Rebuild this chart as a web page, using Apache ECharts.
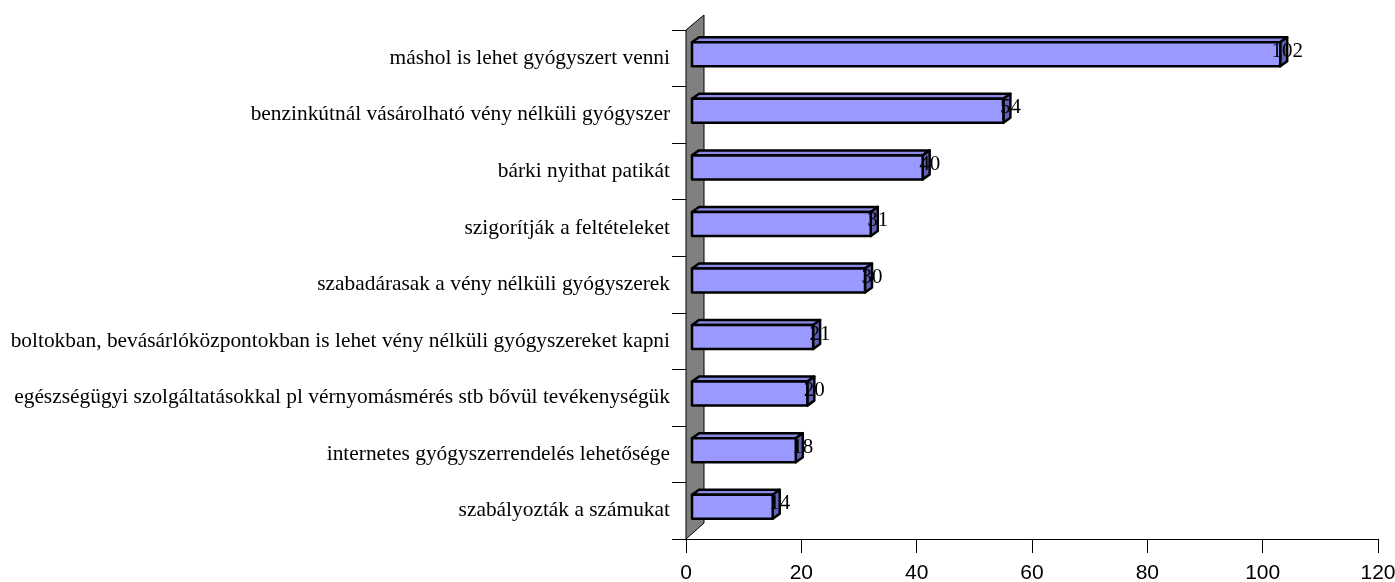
<!DOCTYPE html>
<html>
<head>
<meta charset="utf-8">
<script src="https://cdn.jsdelivr.net/npm/echarts@6/dist/echarts.min.js"></script>
<style>
  html, body { margin: 0; padding: 0; background: #fff; }
  #chart { width: 1395px; height: 582px; }
</style>
</head>
<body>
<div id="chart"></div>
<script>
// kategóriák fentről lefelé
const categories = [
  'máshol is lehet gyógyszert venni',
  'benzinkútnál vásárolható vény nélküli gyógyszer',
  'bárki nyithat patikát',
  'szigorítják a feltételeket',
  'szabadárasak a vény nélküli gyógyszerek',
  'boltokban, bevásárlóközpontokban is lehet vény nélküli gyógyszereket kapni',
  'egészségügyi szolgáltatásokkal pl vérnyomásmérés stb bővül tevékenységük',
  'internetes gyógyszerrendelés lehetősége',
  'szabályozták a számukat'
]
const values = [102, 54, 40, 31, 30, 21, 20, 18, 14]
const xTicks = [0, 20, 40, 60, 80, 100, 120]

const chart = echarts.init(document.getElementById('chart'))

// 3D hatás eltolásai (px)
const FRONT_DX = 6
const FRONT_DY = -4
const DEPTH_X = 7
const DEPTH_Y = -5
const BAR_H = 24

function renderBar(params, api) {
  const v = api.value(0)
  const i = api.value(1)
  const p0 = api.coord([0, i])
  const p1 = api.coord([v, i])
  const x0 = p0[0] + FRONT_DX
  const x1 = p1[0] + FRONT_DX
  const yc = p0[1] + FRONT_DY
  const y0 = yc - BAR_H / 2
  const y1 = yc + BAR_H / 2
  const line = { stroke: '#000', lineWidth: 2.5, lineJoin: 'round' }
  return {
    type: 'group',
    children: [
      {
        type: 'polygon',
        shape: { points: [[x0, y0], [x0 + DEPTH_X, y0 + DEPTH_Y], [x1 + DEPTH_X, y0 + DEPTH_Y], [x1, y0]] },
        style: Object.assign({ fill: '#8a8ae6' }, line)
      },
      {
        type: 'polygon',
        shape: { points: [[x1, y0], [x1 + DEPTH_X, y0 + DEPTH_Y], [x1 + DEPTH_X, y1 + DEPTH_Y], [x1, y1]] },
        style: Object.assign({ fill: '#6262b8' }, line)
      },
      {
        type: 'rect',
        shape: { x: x0, y: y0, width: x1 - x0, height: BAR_H },
        style: Object.assign({ fill: '#9999ff' }, line)
      },
      {
        type: 'text',
        x: x1 + DEPTH_X,
        y: yc - 3,
        style: {
          text: String(v),
          fill: '#000',
          font: '21px "Liberation Serif"',
          align: 'center',
          verticalAlign: 'middle'
        }
      }
    ]
  }
}

function renderWall(params, api) {
  const cs = params.coordSys
  const x = cs.x, top = cs.y, bottom = cs.y + cs.height
  return {
    type: 'polygon',
    shape: { points: [[x, top], [x + 18, top - 15], [x + 18, bottom - 16], [x, bottom]] },
    style: { fill: '#808080', stroke: '#000', lineWidth: 1 }
  }
}

chart.setOption({
  animation: false,
  grid: { left: 686, right: 17, top: 30, bottom: 43, outerBoundsMode: 'none', containLabel: false },
  xAxis: {
    type: 'value',
    min: 0,
    max: 120,
    interval: 20,
    splitLine: { show: false },
    axisLine: { show: true, lineStyle: { color: '#000', width: 1 } },
    axisTick: { show: true, length: 14, lineStyle: { color: '#000' } },
    axisLabel: {
      color: '#000',
      fontFamily: 'Liberation Sans',
      fontSize: 21,
      margin: 24,
      formatter: v => (xTicks.includes(v) ? String(v) : '')
    }
  },
  yAxis: {
    type: 'category',
    inverse: true,
    data: categories,
    axisLine: { show: true, lineStyle: { color: '#000' } },
    axisTick: { show: true, length: 14, interval: 0, lineStyle: { color: '#000' } },
    axisLabel: {
      interval: 0,
      color: '#000',
      fontFamily: 'Liberation Serif',
      fontSize: 21.4,
      margin: 16
    }
  },
  series: [
    {
      type: 'custom',
      renderItem: renderWall,
      data: [[0, 0]],
      z: 1,
      silent: true
    },
    {
      type: 'custom',
      renderItem: renderBar,
      encode: { x: 0, y: 1 },
      data: values.map((v, i) => [v, i]),
      z: 2
    }
  ]
})
</script>
</body>
</html>
